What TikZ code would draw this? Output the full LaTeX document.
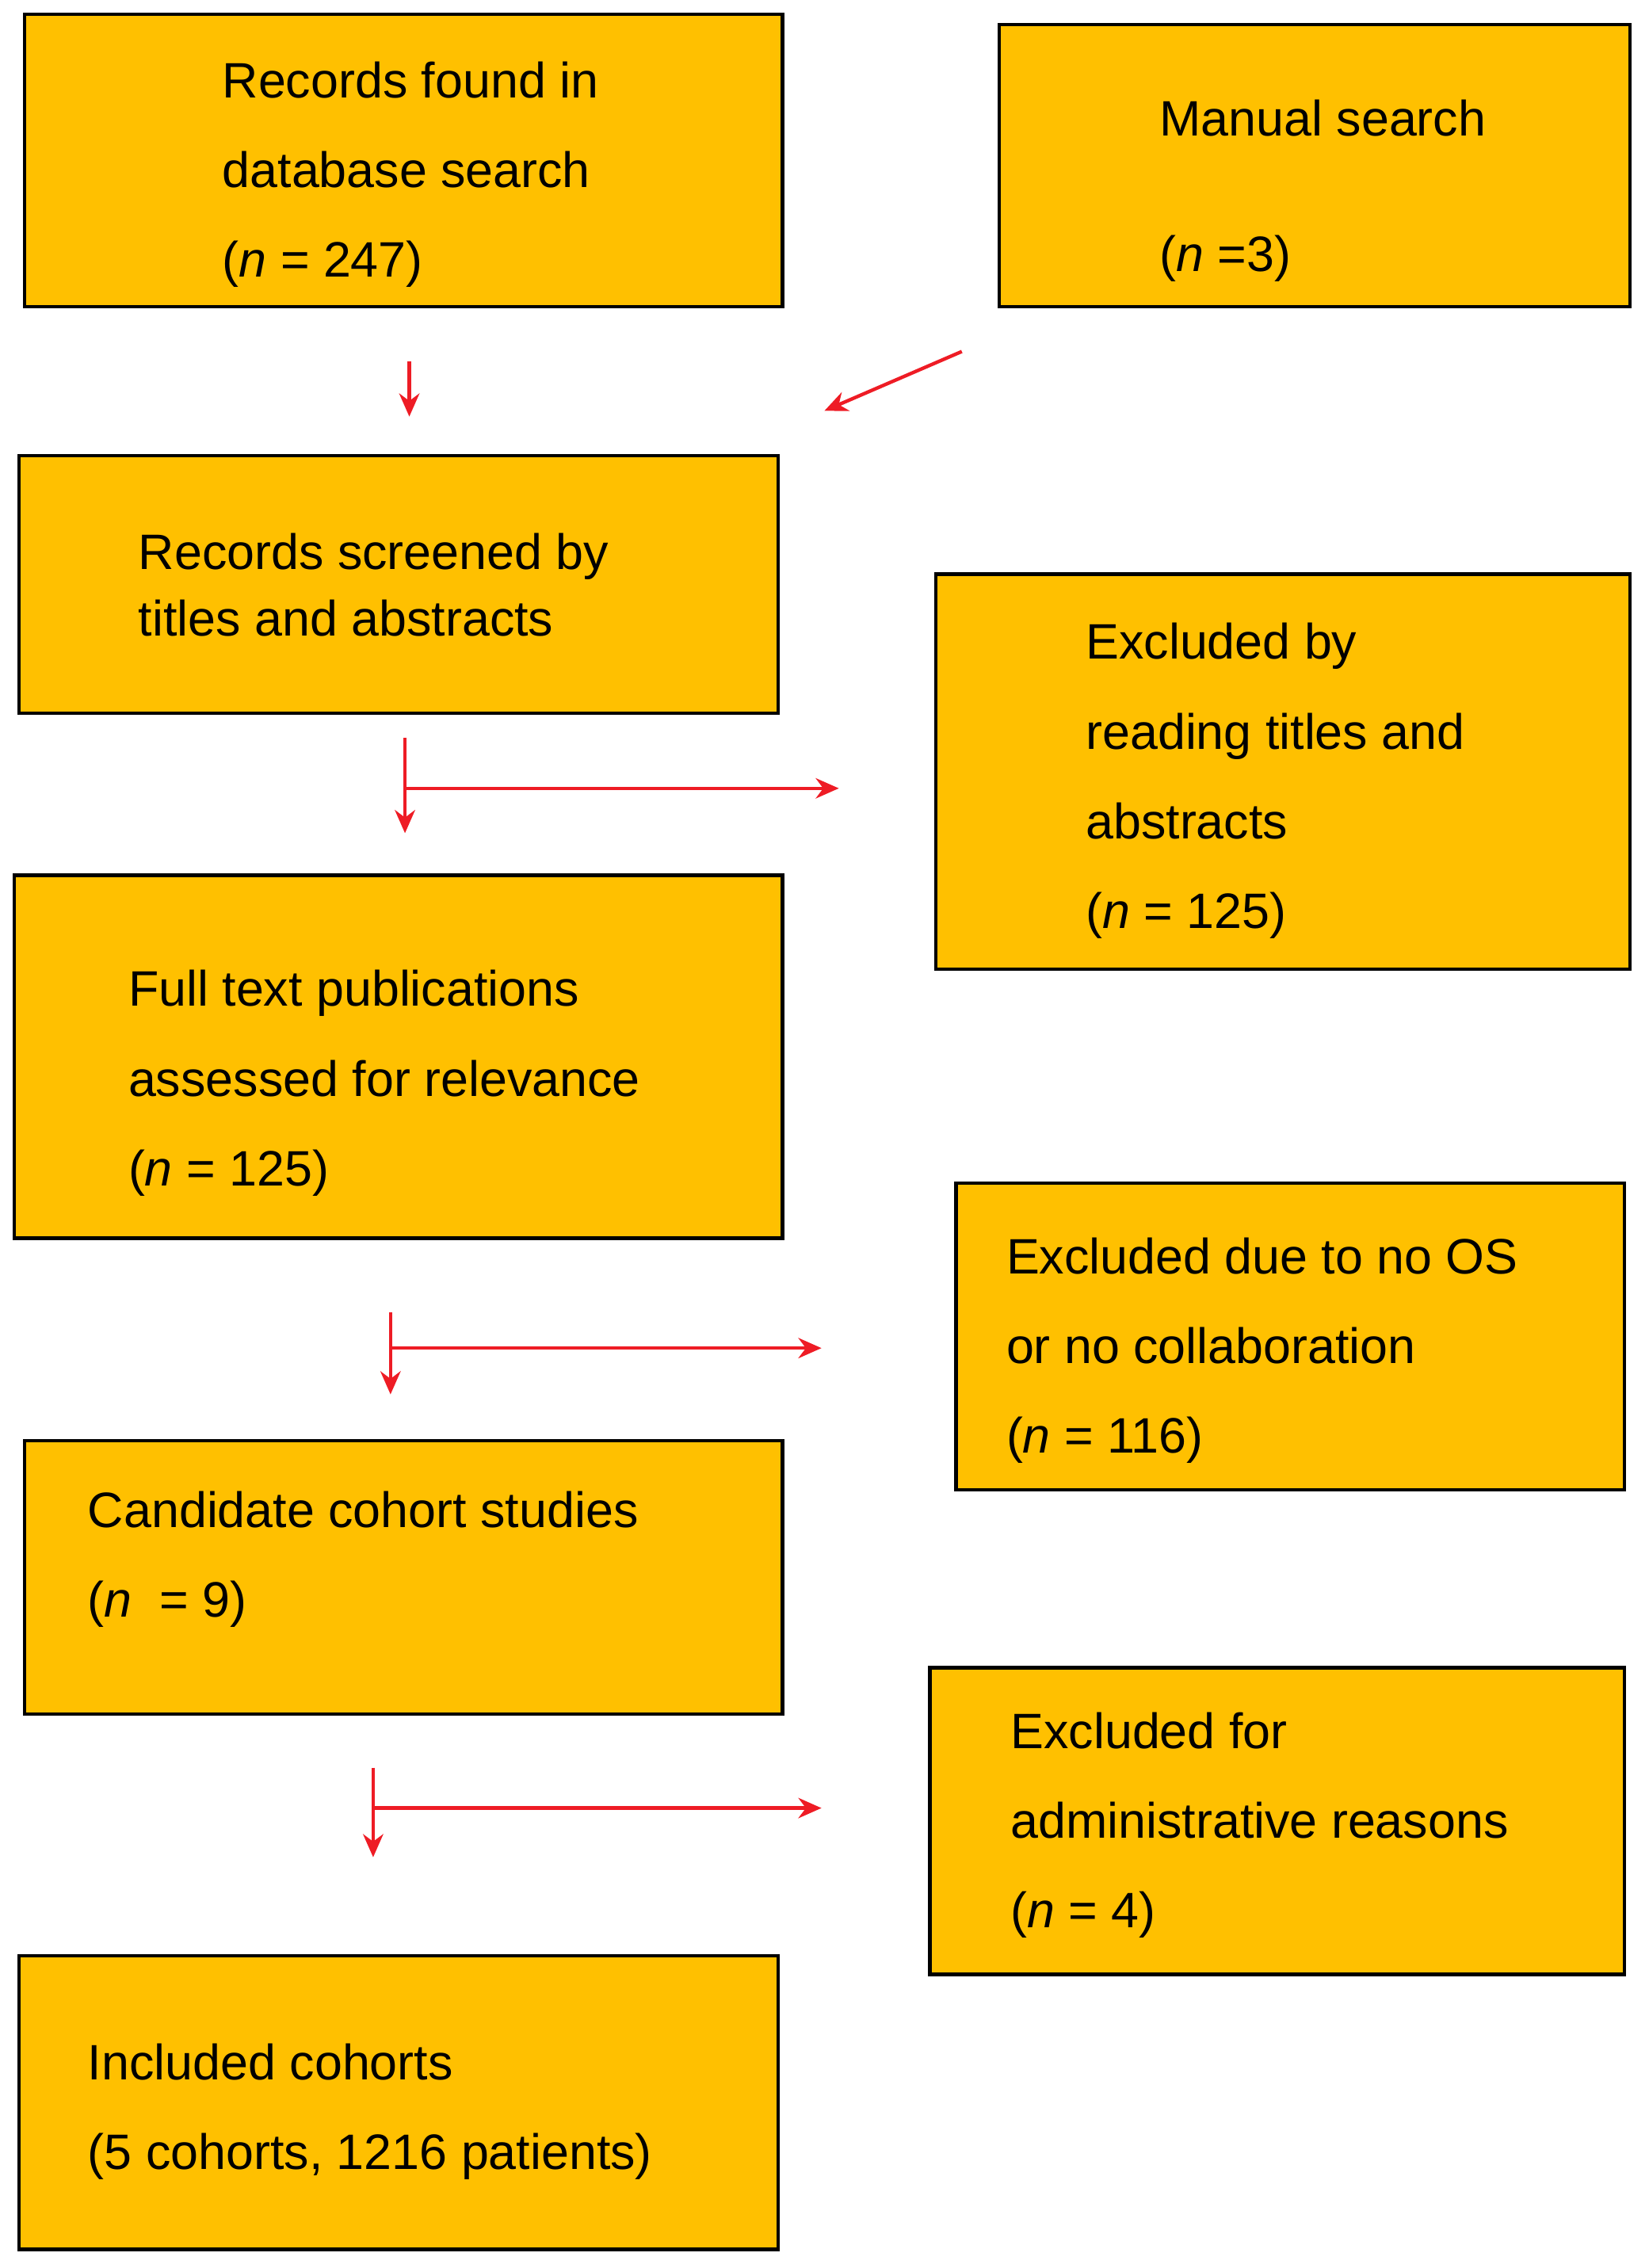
\documentclass[tikz,border=0pt]{standalone}
\usepackage{fontspec}
\setmainfont{Liberation Sans}
\usetikzlibrary{arrows.meta}
\definecolor{boxfill}{HTML}{FFC000}
\definecolor{arrred}{HTML}{EE1C25}
\begin{document}
\begin{tikzpicture}[x=0.25pt,y=-0.25pt,
  box/.style={draw=black,line width=0.6pt,fill=boxfill},
  txt/.style={anchor=north west,align=left,inner sep=0pt,font=\fontsize{8.6}{15.5}\selectfont},
  arr/.style={draw=arrred,line width=0.6pt,-{Stealth[length=4pt,width=3.5pt]}}]
\useasboundingbox (0,0) rectangle (1140,1568);

\draw[box] (17,10) rectangle (541,212);
\draw[box] (691,17) rectangle (1127,212);
\draw[box] (13,315) rectangle (538,493);
\draw[box] (647,397) rectangle (1127,670);
\draw[box] (10,605) rectangle (541,856);
\draw[box] (661,818) rectangle (1123,1030);
\draw[box] (17,996) rectangle (541,1185);
\draw[box] (643,1153) rectangle (1123,1365);
\draw[box] (13,1352) rectangle (538,1555);

\node[txt] (found) at (153,42) {Records found in\\database search\\(\textit{n} = 247)};
\node[txt] (manual) at (801,68) {Manual search\\[8pt](\textit{n} =3)};
\node[txt] (screened) at (95,368) {Records screened by\\[-4pt]titles and abstracts};
\node[txt] (excl1) at (750,430) {Excluded by\\reading titles and\\ abstracts\\(\textit{n} = 125)};
\node[txt] (full) at (88,670) {Full text publications\\assessed for relevance\\(\textit{n} = 125)};
\node[txt] (excl2) at (695,855) {Excluded due to no OS\\or no collaboration\\(\textit{n} = 116)};
\node[txt] (cand) at (60,1030) {Candidate cohort studies\\(\textit{n}\ \ = 9)};
\node[txt] (excl3) at (698,1183) {Excluded for\\administrative reasons\\(\textit{n} = 4)};
\node[txt] (incl) at (60,1412) {Included cohorts\\(5 cohorts, 1216 patients)};

\coordinate (a1s) at (283,250); \coordinate (a1e) at (283,288);
\coordinate (a2s) at (665,243); \coordinate (a2e) at (570,284);
\coordinate (a3s) at (280,510); \coordinate (a3e) at (280,576);
\coordinate (a3h) at (580,545);
\coordinate (a4s) at (270,907); \coordinate (a4e) at (270,964);
\coordinate (a4h) at (568,932);
\coordinate (a5s) at (258,1222); \coordinate (a5e) at (258,1284);
\coordinate (a5h) at (568,1250);

\draw[arr] (a1s) -- (a1e);
\draw[arr] (a2s) -- (a2e);
\draw[arr] (a3s) -- (a3e);
\draw[arr] (a3s |- a3h) -- (a3h);
\draw[arr] (a4s) -- (a4e);
\draw[arr] (a4s |- a4h) -- (a4h);
\draw[arr] (a5s) -- (a5e);
\draw[arr] (a5s |- a5h) -- (a5h);
\end{tikzpicture}
\end{document}
